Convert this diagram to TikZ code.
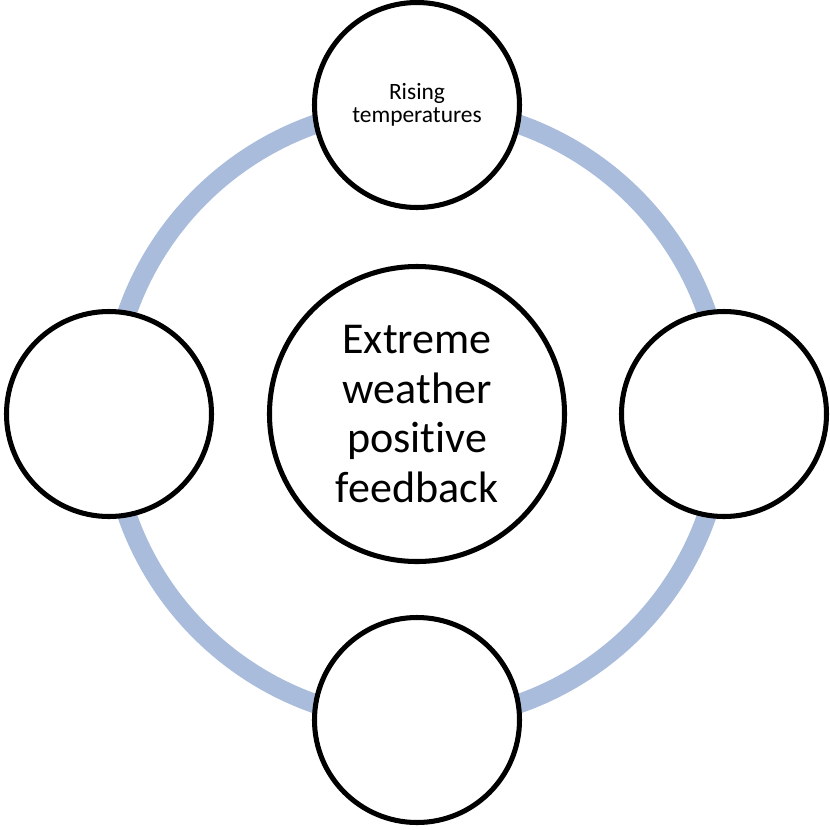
\documentclass[tikz,border=0pt]{standalone}
\usepackage{fontspec}
\setmainfont{Carlito}[Ligatures=NoCommon]
\definecolor{ringblue}{RGB}{169,188,220}
\tikzset{
  bubble/.style = {circle, draw, line width=4.3pt, fill=white, minimum size=6.15cm, align=center, inner sep=0pt},
  hub/.style = {bubble, minimum size=8.85cm},
  ring/.style = {draw=ringblue, line width=0.58cm}
}
\begin{document}
\begin{tikzpicture}[x=0.03cm,y=-0.03cm]
\useasboundingbox (0,0) rectangle (830,829);
\coordinate (mid) at (417,414);
% loop behind the bubbles
\draw[ring] (mid) circle (9.21cm);
\node[hub, font=\fontsize{37.6}{42.5}\selectfont] (hub) at (mid) {Extreme\\weather\\positive\\feedback};
\node[bubble, font=\fontsize{20}{19.8}\selectfont] (rising) at (417,105) {Rising\\temperatures};
\node[bubble] (west) at (109,414) {};
\node[bubble] (east) at (724,414) {};
\node[bubble] (south) at (417,720) {};
\end{tikzpicture}
\end{document}
